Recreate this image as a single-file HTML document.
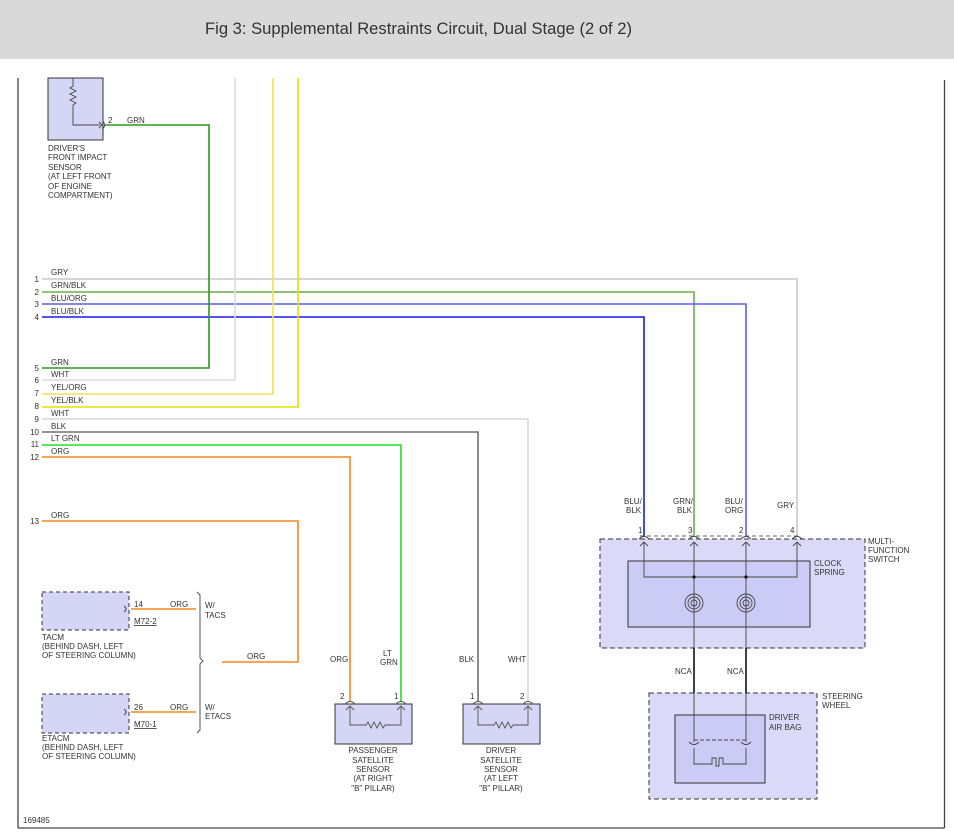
<!DOCTYPE html>
<html><head><meta charset="utf-8"><style>
html,body{margin:0;padding:0;background:#fff;width:954px;height:839px;overflow:hidden}
svg{display:block}
text{font-family:"Liberation Sans",sans-serif;font-size:8px;fill:#333}
</style></head><body>
<svg width="954" height="839" viewBox="0 0 954 839" xmlns="http://www.w3.org/2000/svg">
<rect x="0" y="0" width="954" height="59" fill="#d9d9d9"/>
<text x="205" y="34" style="font-size:16.6px;fill:#333">Fig 3: Supplemental Restraints Circuit, Dual Stage (2 of 2)</text>
<g stroke="#444" stroke-width="1.3" fill="none">
<line x1="18" y1="78" x2="18" y2="828"/>
<line x1="944.5" y1="80" x2="944.5" y2="828"/>
<line x1="18" y1="828" x2="944.5" y2="828"/>
</g>
<rect x="48" y="78" width="55" height="62" fill="#d5d5f5" stroke="#333" stroke-width="1"/>
<polyline points="73,78 73,86 70,88 76,91 70,94 76,97 70,100 76,103 73,105 73,125 100,125" fill="none" stroke="#444" stroke-width="0.9"/>
<path d="M99,122 L102,125 L99,128 M103,121 Q106,125 103,129" fill="none" stroke="#444" stroke-width="0.9"/>
<text x="108" y="123">2</text><text x="127" y="123">GRN</text>
<text x="48" y="151">DRIVER'S</text><text x="48" y="160">FRONT IMPACT</text><text x="48" y="170">SENSOR</text><text x="48" y="179">(AT LEFT FRONT</text><text x="48" y="189">OF ENGINE</text><text x="48" y="198">COMPARTMENT)</text>
<g fill="none" stroke-width="1.6">
<polyline points="42,279 797,279 797,536" stroke="#c8c8c8"/>
<polyline points="42,292 694,292 694,536" stroke="#6ab04c"/>
<polyline points="42,304 746,304 746,536" stroke="#5b5bf0"/>
<polyline points="42,317 644,317 644,536" stroke="#1a1aee"/>
<polyline points="105,125 209,125 209,368 42,368" stroke="#2a9a1a"/>
<polyline points="235,78 235,380 42,380" stroke="#dcdcdc"/>
<polyline points="273,78 273,394 42,394" stroke="#f5e050"/>
<polyline points="298,78 298,407 42,407" stroke="#e8e000"/>
<polyline points="42,419 528,419 528,702" stroke="#d8d8d8"/>
<polyline points="42,432 478,432 478,702" stroke="#707070"/>
<polyline points="42,445 401,445 401,702" stroke="#22e022"/>
<polyline points="42,457 350,457 350,702" stroke="#f5861f"/>
<polyline points="42,521 298,521 298,662 222,662" stroke="#f5861f"/>
<line x1="131" y1="609" x2="196" y2="609" stroke="#f5861f"/>
<line x1="131" y1="712" x2="196" y2="712" stroke="#f5861f"/>
</g>
<g text-anchor="end">
<text x="39" y="282">1</text><text x="39" y="295">2</text><text x="39" y="307">3</text><text x="39" y="320">4</text>
<text x="39" y="371">5</text><text x="39" y="383">6</text><text x="39" y="396">7</text><text x="39" y="409">8</text>
<text x="39" y="422">9</text><text x="39" y="435">10</text><text x="39" y="447">11</text><text x="39" y="460">12</text><text x="39" y="524">13</text>
</g>
<text x="51" y="275">GRY</text><text x="51" y="288">GRN/BLK</text><text x="51" y="301">BLU/ORG</text><text x="51" y="314">BLU/BLK</text>
<text x="51" y="365">GRN</text><text x="51" y="377">WHT</text><text x="51" y="390">YEL/ORG</text><text x="51" y="403">YEL/BLK</text>
<text x="51" y="416">WHT</text><text x="51" y="429">BLK</text><text x="51" y="441">LT GRN</text><text x="51" y="454">ORG</text><text x="51" y="518">ORG</text>
<rect x="42" y="592" width="87" height="38" fill="#d5d5f5" stroke="#333" stroke-dasharray="4,3"/>
<rect x="42" y="694" width="87" height="39" fill="#d5d5f5" stroke="#333" stroke-dasharray="4,3"/>
<path d="M124,606 Q128,609 124,612 M124,709 Q128,712 124,715" stroke="#444" fill="none"/>
<text x="134" y="607">14</text><text x="170" y="607">ORG</text><text x="134" y="710">26</text><text x="170" y="710">ORG</text>
<text x="134" y="624" style="text-decoration:underline">M72-2</text><text x="134" y="727" style="text-decoration:underline">M70-1</text>
<text x="42" y="640">TACM</text><text x="42" y="649">(BEHIND DASH, LEFT</text><text x="42" y="658">OF STEERING COLUMN)</text>
<text x="42" y="741">ETACM</text><text x="42" y="750">(BEHIND DASH, LEFT</text><text x="42" y="759">OF STEERING COLUMN)</text>
<path d="M197,592 L200,595 L200,658 L203,661 L200,664 L200,730 L197,733" stroke="#555" fill="none"/>
<text x="205" y="608">W/</text><text x="205" y="618">TACS</text><text x="205" y="710">W/</text><text x="205" y="719">ETACS</text>
<text x="247" y="659">ORG</text>
<rect x="335" y="704" width="77" height="40" fill="#d5d5f5" stroke="#333"/>
<rect x="463" y="704" width="77" height="40" fill="#d5d5f5" stroke="#333"/>
<g fill="none" stroke="#555" stroke-width="0.9">
<polyline points="350,706 350,725 366,725 368,722 371,728 374,722 377,728 380,722 383,728 385,725 401,725 401,706"/>
<polyline points="478,706 478,725 494,725 496,722 499,728 502,722 505,728 508,722 511,728 513,725 528,725 528,706"/>
<path d="M346,710 L350,706 L354,710 M397,710 L401,706 L405,710 M474,710 L478,706 L482,710 M524,710 L528,706 L532,710"/>
<path d="M345,704 Q350,699 355,704 M396,704 Q401,699 406,704 M473,704 Q478,699 483,704 M523,704 Q528,699 533,704"/>
</g>
<text x="340" y="699">2</text><text x="394" y="699">1</text><text x="470" y="699">1</text><text x="520" y="699">2</text>
<text x="330" y="662">ORG</text><text x="383" y="656">LT</text><text x="380" y="665">GRN</text><text x="459" y="662">BLK</text><text x="508" y="662">WHT</text>
<g text-anchor="middle">
<text x="373" y="753">PASSENGER</text><text x="373" y="763">SATELLITE</text><text x="373" y="772">SENSOR</text><text x="373" y="781">(AT RIGHT</text><text x="373" y="791">"B" PILLAR)</text>
<text x="501" y="753">DRIVER</text><text x="501" y="763">SATELLITE</text><text x="501" y="772">SENSOR</text><text x="501" y="781">(AT LEFT</text><text x="501" y="791">"B" PILLAR)</text>
</g>
<text x="624" y="504">BLU/</text><text x="626" y="513">BLK</text>
<text x="673" y="504">GRN/</text><text x="677" y="513">BLK</text>
<text x="725" y="504">BLU/</text><text x="725" y="513">ORG</text>
<text x="777" y="508">GRY</text>
<text x="638" y="533">1</text><text x="688" y="533">3</text><text x="739" y="533">2</text><text x="790" y="533">4</text>
<rect x="600" y="539" width="265" height="109" fill="#dadaf8" stroke="#333" stroke-dasharray="5,3"/>
<line x1="640" y1="536" x2="800" y2="536" stroke="#333" stroke-dasharray="4,3" stroke-width="0.8"/>
<rect x="628" y="561" width="182" height="66" fill="#cbcbf5" stroke="#333"/>
<g fill="none" stroke="#444" stroke-width="0.9">
<polyline points="644,542 644,577 797,577 797,542"/>
<line x1="694" y1="542" x2="694" y2="693"/>
<line x1="746" y1="542" x2="746" y2="693"/>
<path d="M640,546 L644,542 L648,546 M690,546 L694,542 L698,546 M742,546 L746,542 L750,546 M793,546 L797,542 L801,546"/>
<path d="M639,539 Q644,534 649,539 M689,539 Q694,534 699,539 M741,539 Q746,534 751,539 M792,539 Q797,534 802,539"/>
<circle cx="694" cy="603" r="9"/><circle cx="694" cy="603" r="6"/><circle cx="694" cy="603" r="3"/>
<circle cx="746" cy="603" r="9"/><circle cx="746" cy="603" r="6"/><circle cx="746" cy="603" r="3"/>
</g>
<circle cx="694" cy="577" r="1.6" fill="#111"/><circle cx="746" cy="577" r="1.6" fill="#111"/>
<line x1="694" y1="648" x2="694" y2="693" stroke="#111" stroke-width="1.6"/>
<line x1="746" y1="648" x2="746" y2="693" stroke="#111" stroke-width="1.6"/>
<text x="814" y="566">CLOCK</text><text x="814" y="575">SPRING</text>
<text x="868" y="544">MULTI-</text><text x="868" y="553">FUNCTION</text><text x="868" y="562">SWITCH</text>
<text x="675" y="674">NCA</text><text x="727" y="674">NCA</text>
<rect x="649" y="693" width="168" height="106" fill="#dadaf8" stroke="#333" stroke-dasharray="5,3"/>
<rect x="675" y="715" width="90" height="68" fill="#cbcbf5" stroke="#333"/>
<g fill="none" stroke="#444" stroke-width="0.9">
<line x1="694" y1="693" x2="694" y2="742"/><line x1="746" y1="693" x2="746" y2="742"/>
<line x1="694" y1="740" x2="746" y2="740" stroke-dasharray="4,2"/>
<path d="M689,742 Q694,747 699,742 M741,742 Q746,747 751,742"/>
<polyline points="694,748 694,764 712,764 712,758 716,758 716,766 719,766 719,758 723,758 723,764 746,764 746,748"/>
</g>
<text x="822" y="699">STEERING</text><text x="822" y="708">WHEEL</text>
<text x="769" y="720">DRIVER</text><text x="769" y="730">AIR BAG</text>
<text x="23" y="823">169485</text>
</svg>
</body></html>
